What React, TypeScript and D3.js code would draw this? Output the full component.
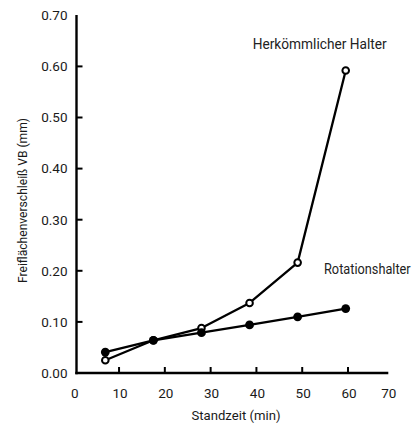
import React, { useEffect, useRef } from "react";
import * as d3 from "d3";

// Standzeit in Minuten
const times = [7, 17.5, 28, 38.5, 49, 59.5];
// Freiflächenverschleiß VB (mm)
const conventionalWear = [0.025, 0.064, 0.088, 0.137, 0.216, 0.592];
const rotationWear = [0.041, 0.064, 0.079, 0.094, 0.110, 0.126];
const xTicks = [0, 10, 20, 30, 40, 50, 60, 70];
const yTicks = [0, 0.1, 0.2, 0.3, 0.4, 0.5, 0.6, 0.7];
const seriesNames = ["Herkömmlicher Halter", "Rotationshalter"];

const FONT = "Roboto, 'Liberation Sans', sans-serif";

function WearChart() {
  const svgRef = useRef<SVGSVGElement | null>(null);

  useEffect(() => {
    if (!svgRef.current) return;
    const svg = d3.select(svgRef.current);
    svg.selectAll("*").remove();

    const axisX = 76.5;
    const axisY = 373;

    const x = d3.scaleLinear().domain([0, 70]).range([73.25, 393.8]);
    const y = d3.scaleLinear().domain([0, 0.7]).range([axisY, 15.3]);

    // axes
    svg.append("line")
      .attr("x1", axisX).attr("x2", axisX)
      .attr("y1", y(0.7) - 0.3).attr("y2", axisY + 1.2)
      .attr("stroke", "#000").attr("stroke-width", 2.4);
    svg.append("line")
      .attr("x1", axisX - 1.2).attr("x2", x(70) - 5.5)
      .attr("y1", axisY).attr("y2", axisY)
      .attr("stroke", "#000").attr("stroke-width", 2.4);

    // y ticks + labels
    svg.selectAll(".ytick")
      .data(yTicks.filter(d => d > 0 && d < 0.7))
      .enter().append("line")
      .attr("class", "ytick")
      .attr("x1", axisX).attr("x2", axisX + 6)
      .attr("y1", d => y(d)).attr("y2", d => y(d))
      .attr("stroke", "#000").attr("stroke-width", 2);

    svg.selectAll(".ylabel")
      .data(yTicks)
      .enter().append("text")
      .attr("class", "ylabel")
      .attr("x", 67.5)
      .attr("y", d => y(d))
      .attr("dy", "0.36em")
      .attr("text-anchor", "end")
      .attr("font-family", FONT)
      .attr("font-size", 13.5)
      .attr("fill", "#1a1a1a")
      .text(d => d.toFixed(2));

    // x ticks + labels
    svg.selectAll(".xtick")
      .data(xTicks.filter(d => d > 0 && d < 70))
      .enter().append("line")
      .attr("class", "xtick")
      .attr("x1", d => x(d)).attr("x2", d => x(d))
      .attr("y1", axisY).attr("y2", axisY - 6)
      .attr("stroke", "#000").attr("stroke-width", 2);

    svg.selectAll(".xlabel")
      .data(xTicks)
      .enter().append("text")
      .attr("class", "xlabel")
      .attr("x", d => d === 0 ? x(d) + 1.5 : d === 70 ? x(d) - 5 : x(d) + 1)
      .attr("y", 397.6)
      .attr("text-anchor", "middle")
      .attr("font-family", FONT)
      .attr("font-size", 13.5)
      .attr("fill", "#1a1a1a")
      .text(d => String(d));

    // axis titles
    svg.append("text")
      .attr("x", 236)
      .attr("y", 419.5)
      .attr("text-anchor", "middle")
      .attr("font-family", FONT)
      .attr("font-size", 13)
      .attr("fill", "#1a1a1a")
      .attr("textLength", 89)
      .attr("lengthAdjust", "spacingAndGlyphs")
      .text("Standzeit (min)");

    svg.append("text")
      .attr("transform", "translate(26.5,200.5) rotate(-90)")
      .attr("text-anchor", "middle")
      .attr("font-family", FONT)
      .attr("font-size", 12.5)
      .attr("fill", "#1a1a1a")
      .attr("textLength", 165)
      .attr("lengthAdjust", "spacingAndGlyphs")
      .text("Freiflächenverschleiß VB (mm)");

    const line = d3.line<number>()
      .x((_, i) => x(times[i]))
      .y(d => y(d));

    // conventional holder: open circles
    svg.append("path")
      .datum(conventionalWear)
      .attr("d", line)
      .attr("fill", "none")
      .attr("stroke", "#000")
      .attr("stroke-width", 2.3)
      .attr("stroke-linejoin", "round");
    svg.selectAll(".openpt")
      .data(conventionalWear)
      .enter().append("circle")
      .attr("class", "openpt")
      .attr("cx", (_, i) => x(times[i]))
      .attr("cy", d => y(d))
      .attr("r", 3.3)
      .attr("fill", "#fff")
      .attr("stroke", "#000")
      .attr("stroke-width", 2);

    // rotation holder: filled circles
    svg.append("path")
      .datum(rotationWear)
      .attr("d", line)
      .attr("fill", "none")
      .attr("stroke", "#000")
      .attr("stroke-width", 2.3)
      .attr("stroke-linejoin", "round");
    svg.selectAll(".fillpt")
      .data(rotationWear)
      .enter().append("circle")
      .attr("class", "fillpt")
      .attr("cx", (_, i) => x(times[i]))
      .attr("cy", d => y(d))
      .attr("r", 4.4)
      .attr("fill", "#000");

    // series labels
    svg.append("text")
      .attr("x", 252.7).attr("y", 49)
      .attr("font-family", FONT)
      .attr("font-size", 14)
      .attr("fill", "#222")
      .attr("textLength", 134)
      .attr("lengthAdjust", "spacingAndGlyphs")
      .text(seriesNames[0]);
    svg.append("text")
      .attr("x", 324).attr("y", 274)
      .attr("font-family", FONT)
      .attr("font-size", 14)
      .attr("fill", "#222")
      .attr("textLength", 86.7)
      .attr("lengthAdjust", "spacingAndGlyphs")
      .text(seriesNames[1]);
  }, []);

  return (
    <svg
      ref={svgRef}
      width={420}
      height={426}
      style={{ position: "absolute", left: 0, top: 0, background: "#fff" }}
    />
  );
}

export default function App() {
  return <WearChart />;
}
